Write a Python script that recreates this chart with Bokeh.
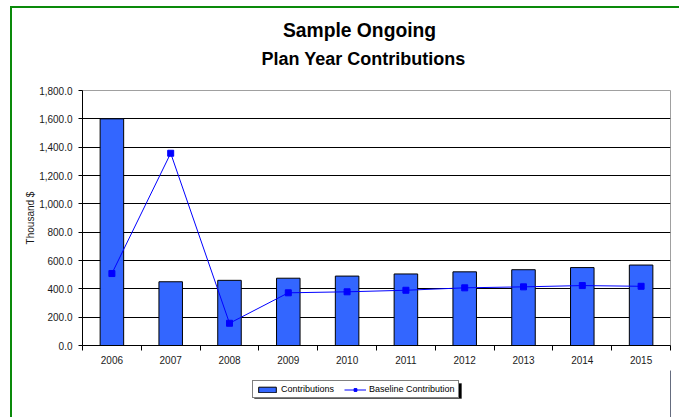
from bokeh.plotting import figure
from bokeh.layouts import column, row
from bokeh.models import (ColumnDataSource, FixedTicker, NumeralTickFormatter, Label,
                          Legend, LegendItem, BoxAnnotation, Range1d, Div)
from bokeh.embed import file_html
from bokeh.resources import INLINE

years = ["2006", "2007", "2008", "2009", "2010", "2011", "2012", "2013", "2014", "2015"]
contributions = [1600, 450, 460, 475, 490, 505, 520, 535, 550, 568]
baseline = [508, 1357, 157, 372, 379, 390, 407, 414, 423, 418]
y_ticks = [0, 200, 400, 600, 800, 1000, 1200, 1400, 1600, 1800]
title_text = "Sample Ongoing"
subtitle_text = "Plan Year Contributions"

pos = list(range(len(years)))
src = ColumnDataSource(dict(x=pos, year=years, contrib=contributions, base=baseline))

FONT = "Liberation Sans"
BAR_FILL = "#3366FF"
LINE_COL = "#0000FF"
GREEN = "#0a8a0a"

# page geometry
BX, BY = 10, 6                 # outer green border position
OX, OY = BX + 2, BY + 2        # canvases start inside the green border
W = 679 - OX
FRAME_L, FRAME_R, FRAME_T, FRAME_B = 82, 670, 90, 345
TITLE_B = 80                   # bottom of the title strip (page y)
MAIN_B = 370                   # bottom of the main chart (page y)
H_TITLE = TITLE_B - OY
H_MAIN = MAIN_B - TITLE_B
H_LEG = 417 - MAIN_B

# ---------------- title strip ----------------
pt = figure(width=W, height=H_TITLE, output_backend="svg", toolbar_location=None,
            x_range=Range1d(FRAME_L, FRAME_R), y_range=Range1d(TITLE_B, OY),
            min_border_left=FRAME_L - OX, min_border_right=OX + W - FRAME_R,
            min_border_top=0, min_border_bottom=0,
            background_fill_color="white", border_fill_color="white")
pt.axis.visible = False
pt.grid.visible = False
pt.outline_line_color = None
pt.title = None
pt.add_layout(Label(x=359, y=30, text=title_text, text_font=FONT, text_font_size="19.3px",
                    text_font_style="bold", text_color="black",
                    text_align="center", text_baseline="middle"))
pt.add_layout(Label(x=363, y=58, text=subtitle_text, text_font=FONT, text_font_size="18px",
                    text_font_style="bold", text_color="black",
                    text_align="center", text_baseline="middle"))

# ---------------- main chart ----------------
p = figure(width=W, height=H_MAIN, output_backend="svg", toolbar_location=None,
           x_range=Range1d(-0.5, len(years) - 0.5), y_range=Range1d(0, 1800),
           min_border_left=FRAME_L - OX, min_border_right=OX + W - FRAME_R,
           min_border_top=FRAME_T - TITLE_B, min_border_bottom=MAIN_B - FRAME_B,
           background_fill_color="white", border_fill_color="white")
p.title = None

bars = p.vbar(x="x", top="contrib", width=0.4, source=src,
              fill_color=BAR_FILL, line_color="black", line_width=1)
ln = p.line(x="x", y="base", source=src, line_color=LINE_COL, line_width=1)
mk = p.scatter(x="x", y="base", source=src, marker="square", size=6,
               fill_color=LINE_COL, line_color=LINE_COL)

xa = p.xaxis[0]
xa.ticker = FixedTicker(ticks=pos, minor_ticks=[i - 0.5 for i in range(len(years) + 1)])
xa.major_label_overrides = {i: y for i, y in enumerate(years)}
xa.major_tick_out = 0
xa.major_tick_in = 0
xa.minor_tick_out = 5
xa.minor_tick_in = 0
xa.minor_tick_line_color = "black"
xa.axis_line_color = "black"
xa.major_label_standoff = 5
xa.major_label_text_font = FONT
xa.major_label_text_font_size = "10px"
xa.major_label_text_color = "#1a1a1a"

ya = p.yaxis[0]
ya.ticker = FixedTicker(ticks=y_ticks)
ya.formatter = NumeralTickFormatter(format="0,0.0")
ya.major_tick_out = 4
ya.major_tick_in = 0
ya.minor_tick_out = 0
ya.minor_tick_in = 0
ya.major_tick_line_color = "black"
ya.axis_line_color = "black"
ya.major_label_standoff = 6
ya.major_label_text_font = FONT
ya.major_label_text_font_size = "10px"
ya.major_label_text_color = "#1a1a1a"
ya.axis_label = "Thousand $"
ya.axis_label_text_font = FONT
ya.axis_label_text_font_size = "10px"
ya.axis_label_text_font_style = "normal"
ya.axis_label_text_color = "#1a1a1a"
ya.axis_label_standoff = 0

p.xgrid.grid_line_color = None
p.ygrid.grid_line_color = "black"
p.ygrid.grid_line_width = 1
p.ygrid.ticker = FixedTicker(ticks=y_ticks[:-1])
p.outline_line_color = "#a0a0a0"
p.outline_line_width = 1

# ---------------- legend strip ----------------
pl = figure(width=W, height=H_LEG, output_backend="svg", toolbar_location=None,
            x_range=Range1d(0, 1), y_range=Range1d(0, 1),
            min_border_left=FRAME_L - OX, min_border_right=OX + W - FRAME_R,
            min_border_top=0, min_border_bottom=0,
            background_fill_color="white", border_fill_color="white")
pl.axis.visible = False
pl.grid.visible = False
pl.outline_line_color = None
pl.title = None
offscreen = ColumnDataSource(dict(x=[5], y=[5], top=[5]))
lb = pl.vbar(x="x", top="top", width=0.4, source=offscreen,
             fill_color=BAR_FILL, line_color="black", line_width=1)
ll = pl.line(x="x", y="y", source=offscreen, line_color=LINE_COL, line_width=1)
lm = pl.scatter(x="x", y="y", source=offscreen, marker="square", size=6,
                fill_color=LINE_COL, line_color=LINE_COL)

LEG_L = 252
LEG_R = 459
LEG_T = 381
LEG_B = 396

shadow = BoxAnnotation(left=LEG_L + 2 - OX, right=LEG_R + 2 - OX,
                       top=LEG_T + 2 - MAIN_B, bottom=LEG_B + 2 - MAIN_B,
                       left_units="canvas", right_units="canvas",
                       top_units="canvas", bottom_units="canvas",
                       fill_color="black", fill_alpha=1, line_color="black",
                       level="underlay")
pl.add_layout(shadow)

legend = Legend(items=[LegendItem(label="Contributions", renderers=[lb]),
                       LegendItem(label="Baseline Contribution", renderers=[ll, lm])],
                orientation="horizontal",
                location=(LEG_L - FRAME_L, 417 - LEG_B - 2),
                label_text_font=FONT, label_text_font_size="9px", label_text_color="black",
                glyph_width=22, glyph_height=7, label_standoff=3, spacing=10,
                padding=3, margin=0, label_height=8,
                border_line_color="black", border_line_width=1,
                background_fill_color="white", background_fill_alpha=1)
pl.add_layout(legend)

# outer green border (top and left edges) as plain coloured blocks
bar_style = {"background-color": GREEN, "overflow": "hidden", "font-size": "0px",
             "line-height": "0px"}
top_bar = Div(text="", width=679 - BX, height=2, margin=0, styles=bar_style)
left_bar = Div(text="", width=2, height=417 - OY, margin=0, styles=bar_style)
charts = column(pt, p, pl, spacing=0, margin=0)
layout = column(top_bar, row(left_bar, charts, spacing=0, margin=0),
                spacing=0, margin=(BY, 0, 0, BX), styles={"overflow": "hidden"})

open("out.html", "w").write(file_html(layout, INLINE))
